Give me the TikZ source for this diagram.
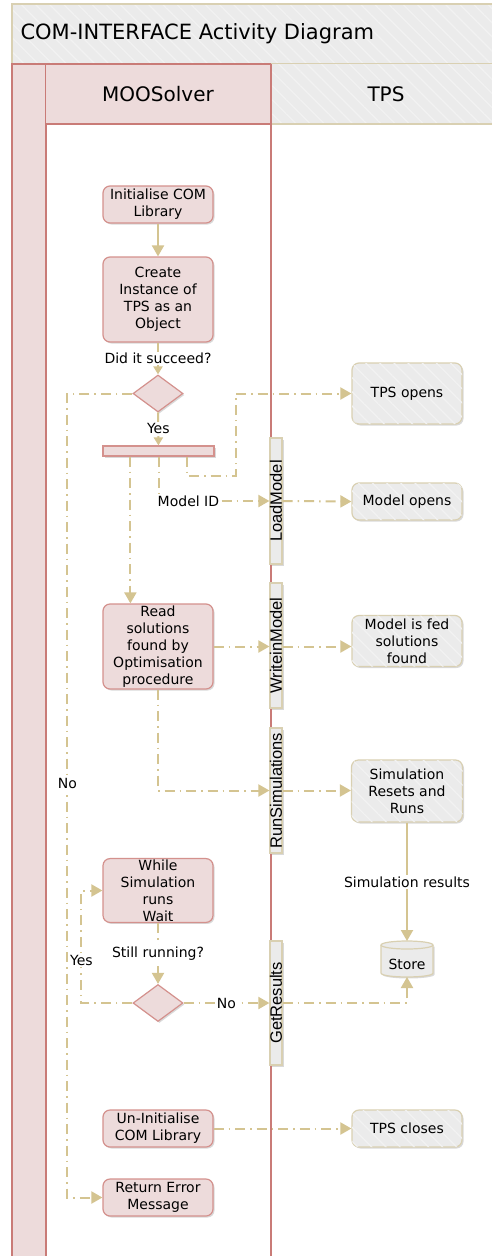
\documentclass[tikz,border=0pt]{standalone}
\usepackage{fontspec}
\setmainfont{DejaVu Sans}
\newfontfamily\barfont{Liberation Sans}
\usetikzlibrary{arrows.meta,shapes.geometric,shadows,patterns.meta,calc}
\definecolor{pinkfill}{HTML}{EDDBDB}
\definecolor{roseline}{HTML}{D4918D}
\definecolor{lanerose}{HTML}{C97B77}
\definecolor{grayfill}{HTML}{EBEBEB}
\definecolor{hatchcol}{HTML}{F2F2F2}
\definecolor{tanline}{HTML}{D9D0B2}
\definecolor{flowcol}{HTML}{D4C491}
\begin{document}
\begin{tikzpicture}[x=1pt,y=-1pt,
  font=\fontsize{14}{17}\selectfont,
  hatch/.style={postaction={pattern={Lines[angle=-45,distance=10pt,line width=1.2pt]},pattern color=hatchcol}},
  shad/.style={drop shadow={shadow xshift=1.5pt,shadow yshift=-1.5pt,opacity=0.15,fill=black}},
  act/.style={shad,draw=roseline,fill=pinkfill,rounded corners=7pt,minimum width=110pt,align=center,inner sep=1pt,line width=1.2pt},
  tpsact/.style={shad,draw=tanline,fill=grayfill,hatch,rounded corners=7pt,minimum width=110pt,align=center,inner sep=1pt,line width=1.2pt},
  dec/.style={shad,diamond,draw=roseline,fill=pinkfill,minimum width=50pt,minimum height=37pt,inner sep=0pt,line width=1.2pt},
  fork/.style={shad,draw=roseline,fill=pinkfill,minimum width=111pt,minimum height=10pt,inner sep=0pt,line width=1.2pt},
  bar/.style={shad,draw=tanline,fill=grayfill,minimum width=12pt,inner sep=0pt,line width=1.2pt},
  barlbl/.style={rotate=90,font=\barfont\fontsize{16.5}{18}\selectfont,inner sep=0pt},
  lbl/.style={fill=white,inner sep=1.5pt},
  flow/.style={draw=flowcol,line width=2pt,-{Triangle[length=11pt,width=12pt]}},
  sflow/.style={draw=flowcol,line width=2pt,-{Triangle[length=8pt,width=9pt]}},
  dd/.style={flow,dash pattern=on 10pt off 5pt on 1.5pt off 5pt},
  hdr/.style={font=\fontsize{20}{22}\selectfont}
]
\useasboundingbox (0,0) rectangle (491,1256);
\fill[white] (0,0) rectangle (491,1256);
% title band
\path[fill=grayfill,hatch] (12,4) rectangle (492,64);
\draw[tanline,line width=1.5pt] (492,4) -- (12,4) -- (12,64) -- (492,64);
\node[anchor=west,font=\fontsize{21}{23}\selectfont] (title) at (17,34) {COM-INTERFACE Activity Diagram};
% TPS header
\path[fill=grayfill,hatch] (271,64) rectangle (492,124);
\draw[tanline,line width=1.5pt] (271,124) -- (492,124);
\node[hdr] (tpshdr) at (386,94) {TPS};
% left column
\fill[pinkfill] (12,64) rectangle (46,1257);
\draw[lanerose,line width=1.5pt] (12,1257) -- (12,64) -- (46,64) -- (46,1257);
% MOOSolver header and lane
\fill[pinkfill] (46,64) rectangle (271,124);
\draw[lanerose,line width=1.5pt] (46,64) -- (271,64) (46,124) -- (271,124) (271,64) -- (271,1257);
\node[hdr] (moohdr) at (158,94) {MOOSolver};

% activities
\node[act,minimum height=37pt] (init) at (158,204.5) {Initialise COM\\Library};
\node[act,minimum height=85pt] (create) at (158,299.5) {Create\\Instance of\\TPS as an\\Object};
\node[dec] (d1) at (158,393.5) {};
\node[fork] (fork) at (158.5,451) {};
\node[act,minimum height=85pt] (read) at (158,646.5) {Read\\solutions\\found by\\Optimisation\\procedure};
\node[act,minimum height=63pt] (while) at (158,890.5) {While\\Simulation\\runs\\Wait};
\node[dec] (d2) at (158,1003) {};
\node[act,minimum height=37pt] (uninit) at (158,1128.5) {Un-Initialise\\COM Library};
\node[act,minimum height=37pt] (ret) at (158,1197.5) {Return Error\\Message};

% TPS side
\node[tpsact,minimum height=61pt] (tpsopen) at (407,393.5) {TPS opens};
\node[tpsact,minimum height=37pt] (modelopen) at (407,501.5) {Model opens};
\node[tpsact,minimum height=51pt] (modelfed) at (407,641) {Model is fed\\solutions\\found};
\node[tpsact,minimum height=62pt,minimum width=111pt] (sim) at (407,791) {Simulation\\Resets and\\Runs};
\node[tpsact,minimum height=37pt] (tpsclose) at (407,1128.5) {TPS closes};

% store (cylinder)
\node[minimum width=52pt,minimum height=36pt,inner sep=0pt] (store) at (407,959) {};
\path[shad,fill=grayfill] ($(store)+(-26,-14)$) -- ($(store)+(-26,14)$) .. controls ($(store)+(-26,19.3)$) and ($(store)+(26,19.3)$) .. ($(store)+(26,14)$) -- ($(store)+(26,-14)$) -- cycle;
\fill[grayfill] ($(store)+(0,-14)$) ellipse [x radius=26pt,y radius=4pt];
\draw[tanline,line width=1.2pt] ($(store)+(-26,-14)$) -- ($(store)+(-26,14)$) .. controls ($(store)+(-26,19.3)$) and ($(store)+(26,19.3)$) .. ($(store)+(26,14)$) -- ($(store)+(26,-14)$);
\draw[tanline,line width=1.2pt] ($(store)+(0,-14)$) ellipse [x radius=26pt,y radius=4pt];
\node (storelbl) at ($(store)+(0,5)$) {Store};

% interface bars
\node[bar,minimum height=126pt] (load) at (276,501) {};
\node[barlbl] (loadl) at (load) {LoadModel};
\node[bar,minimum height=125pt] (write) at (276,645.5) {};
\node[barlbl] (writel) at (write) {WriteinModel};
\node[bar,minimum height=125pt] (runsim) at (276,790.5) {};
\node[barlbl] (runsiml) at (runsim) {RunSimulations};
\node[bar,minimum height=124pt] (getres) at (276,1003) {};
\node[barlbl] (getresl) at (getres) {GetResults};

% connectors
\draw[flow] (init) -- (create);
\draw[sflow] (create) -- (d1) node[lbl,midway] (q1) {Did it succeed?};
\draw[sflow] (d1) -- (fork) node[lbl,midway] (y1) {Yes};
\draw[dd] (d1.west) -- ++(-65,0) coordinate (nl) -- (nl |- ret.west) node[lbl,pos=0.485] (n1) {No} -- (ret.west);
\draw[dd] ([xshift=-28pt]fork.south east) -- ++(0,19) coordinate (c1) -- ++(49,0) coordinate (c2) -- (c2 |- tpsopen.west) -- (tpsopen.west);
\draw[dd] (fork.south) -- (fork.south |- load.west) -- (load.west) node[lbl,pos=0.27] (mid) {Model ID};
\draw[dd] (load.east) -- (modelopen.west);
\draw[dd] ([xshift=28pt]fork.south west) -- ([xshift=28pt]read.north west);
\draw[dd] (read.east) -- (write.west |- read.east);
\draw[dd] (write.east |- read.east) -- (modelfed.west |- read.east);
\draw[dd] (read.south) -- (read.south |- runsim.west) -- (runsim.west);
\draw[dd] (runsim.east) -- (sim.west |- runsim.east);
\draw[flow] (sim.south) -- ($(store)+(0,-18)$) node[lbl,midway] (simres) {Simulation results};
\draw[dd] (while.south) -- (d2.north) node[lbl,midway] (q2) {Still running?};
\draw[dd] (d2.west) -- ++(-51,0) coordinate (yl) -- (yl |- while.west) node[lbl,pos=0.38] (y2) {Yes} -- (while.west);
\draw[dd] (d2.east) -- (getres.west |- d2.east) node[lbl,midway] (n2) {No};
\draw[dd] (getres.east |- d2.east) -| ($(store)+(0,18)$);
\draw[dd] (uninit.east) -- (tpsclose.west);
\end{tikzpicture}
\end{document}
